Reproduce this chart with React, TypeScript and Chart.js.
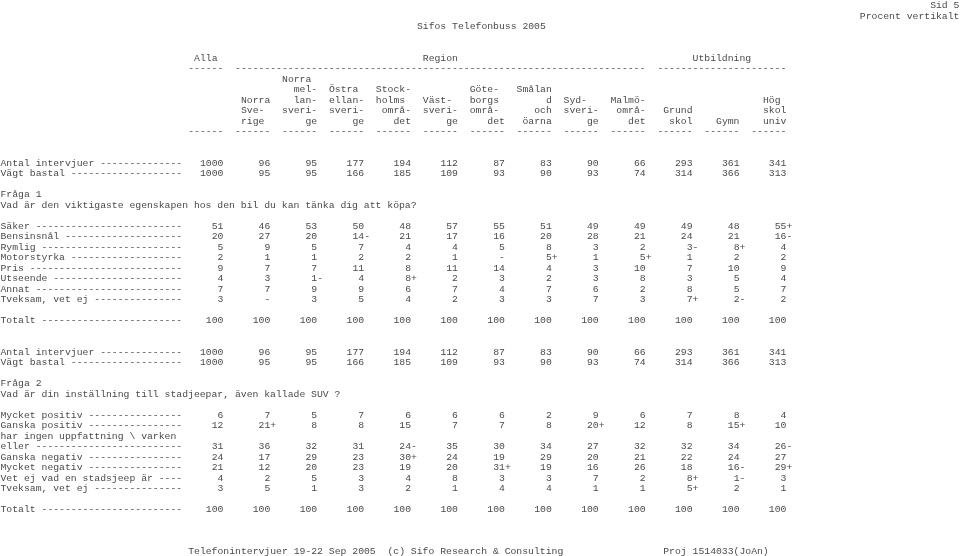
import React, { useEffect, useRef } from "react";
import { Chart, registerables } from "chart.js";

Chart.register(...registerables);

// ---------- column headers (13 columns) ----------
const groupAlla = "Alla";
const groupRegion = "Region";
const groupUtbildning = "Utbildning";

// five header lines per column (lines 7..11), each a 6-char field
const colHeaders: string[][] = [
  ["", "", "", "", ""],
  ["", "", " Norra", " Sve- ", " rige "],
  ["Norra ", "  mel-", "  lan-", "sveri-", "    ge"],
  ["", "Östra ", "ellan-", "sveri-", "    ge"],
  ["", "Stock-", "holms ", " områ-", "   det"],
  ["", "", "Väst- ", "sveri-", "    ge"],
  ["", "Göte- ", "borgs ", "områ- ", "   det"],
  ["", "Smålan", "     d", "   och", " öarna"],
  ["", "", "Syd-  ", "sveri-", "    ge"],
  ["", "", "Malmö-", " områ-", "   det"],
  ["", "", "", " Grund", "  skol"],
  ["", "", "", "", "  Gymn"],
  ["", "", "  Hög ", "  skol", "  univ"],
];

// ---------- base rows ----------
const antalIntervjuer = [1000, 96, 95, 177, 194, 112, 87, 83, 90, 66, 293, 361, 341];
const vagtBastal = [1000, 95, 95, 166, 185, 109, 93, 90, 93, 74, 314, 366, 313];
const totalt = [100, 100, 100, 100, 100, 100, 100, 100, 100, 100, 100, 100, 100];
const noSig = ["", "", "", "", "", "", "", "", "", "", "", "", ""];

// ---------- Fråga 1 ----------
const q1Title = "Fråga 1";
const q1Text = "Vad är den viktigaste egenskapen hos den bil du kan tänka dig att köpa?";

const q1Saker = [51, 46, 53, 50, 48, 57, 55, 51, 49, 49, 49, 48, 55];
const q1SakerSig = ["", "", "", "", "", "", "", "", "", "", "", "", "+"];
const q1Bensinsnal = [20, 27, 20, 14, 21, 17, 16, 20, 28, 21, 24, 21, 16];
const q1BensinsnalSig = ["", "", "", "-", "", "", "", "", "", "", "", "", "-"];
const q1Rymlig = [5, 9, 5, 7, 4, 4, 5, 8, 3, 2, 3, 8, 4];
const q1RymligSig = ["", "", "", "", "", "", "", "", "", "", "-", "+", ""];
const q1Motorstyrka = [2, 1, 1, 2, 2, 1, 0, 5, 1, 5, 1, 2, 2];
const q1MotorstyrkaSig = ["", "", "", "", "", "", "", "+", "", "+", "", "", ""];
const q1Pris = [9, 7, 7, 11, 8, 11, 14, 4, 3, 10, 7, 10, 9];
const q1Utseende = [4, 3, 1, 4, 8, 2, 3, 2, 3, 8, 3, 5, 4];
const q1UtseendeSig = ["", "", "-", "", "+", "", "", "", "", "", "", "", ""];
const q1Annat = [7, 7, 9, 9, 6, 7, 4, 7, 6, 2, 8, 5, 7];
const q1Tveksam = [3, 0, 3, 5, 4, 2, 3, 3, 7, 3, 7, 2, 2];
const q1TveksamSig = ["", "", "", "", "", "", "", "", "", "", "+", "-", ""];

// ---------- Fråga 2 ----------
const q2Title = "Fråga 2";
const q2Text = "Vad är din inställning till stadjeepar, även kallade SUV ?";

const q2MycketPositiv = [6, 7, 5, 7, 6, 6, 6, 2, 9, 6, 7, 8, 4];
const q2GanskaPositiv = [12, 21, 8, 8, 15, 7, 7, 8, 20, 12, 8, 15, 10];
const q2GanskaPositivSig = ["", "+", "", "", "", "", "", "", "+", "", "", "+", ""];
const q2Varken = [31, 36, 32, 31, 24, 35, 30, 34, 27, 32, 32, 34, 26];
const q2VarkenSig = ["", "", "", "", "-", "", "", "", "", "", "", "", "-"];
const q2GanskaNegativ = [24, 17, 29, 23, 30, 24, 19, 29, 20, 21, 22, 24, 27];
const q2GanskaNegativSig = ["", "", "", "", "+", "", "", "", "", "", "", "", ""];
const q2MycketNegativ = [21, 12, 20, 23, 19, 20, 31, 19, 16, 26, 18, 16, 29];
const q2MycketNegativSig = ["", "", "", "", "", "", "+", "", "", "", "", "-", "+"];
const q2VetEj = [4, 2, 5, 3, 4, 8, 3, 3, 7, 2, 8, 1, 3];
const q2VetEjSig = ["", "", "", "", "", "", "", "", "", "", "+", "-", ""];
const q2Tveksam = [3, 5, 1, 3, 2, 1, 4, 4, 1, 1, 5, 2, 1];
const q2TveksamSig = ["", "", "", "", "", "", "", "", "", "", "+", "", ""];

// ---------- page texts ----------
const pageTitle = "Sifos Telefonbuss 2005";
const pageNo = "Sid 5";
const pageMode = "Procent vertikalt";
const footerLeft = "Telefonintervjuer 19-22 Sep 2005  (c) Sifo Research & Consulting";
const footerRight = "Proj 1514033(JoAn)";

// ---------- layout (character grid) ----------
const CHAR_W = 5.865;
const X_ORIGIN = 0.5;
const LINE_H = 10.5;
const Y_ORIGIN = 5;
const W = 960;
const H = 556;
const LABEL_LEN = 31;
const BASE_OFF = 3.4;
const FONT = '9.78px "Liberation Mono", "DejaVu Sans Mono", monospace';
const COLOR = "#4a4a4a";

const fieldStart = (k: number) => 32 + 8 * k;
const fieldEnd = (k: number) => 38 + 8 * k;

const pad = (label: string) => {
  const s = label + " ";
  return s.length >= LABEL_LEN ? label : s + "-".repeat(LABEL_LEN - s.length);
};

type Row = { line: number; label: string; values: number[]; sig: string[] };

const rows: Row[] = [
  { line: 15, label: "Antal intervjuer", values: antalIntervjuer, sig: noSig },
  { line: 16, label: "Vägt bastal", values: vagtBastal, sig: noSig },
  { line: 21, label: "Säker", values: q1Saker, sig: q1SakerSig },
  { line: 22, label: "Bensinsnål", values: q1Bensinsnal, sig: q1BensinsnalSig },
  { line: 23, label: "Rymlig", values: q1Rymlig, sig: q1RymligSig },
  { line: 24, label: "Motorstyrka", values: q1Motorstyrka, sig: q1MotorstyrkaSig },
  { line: 25, label: "Pris", values: q1Pris, sig: noSig },
  { line: 26, label: "Utseende", values: q1Utseende, sig: q1UtseendeSig },
  { line: 27, label: "Annat", values: q1Annat, sig: noSig },
  { line: 28, label: "Tveksam, vet ej", values: q1Tveksam, sig: q1TveksamSig },
  { line: 30, label: "Totalt", values: totalt, sig: noSig },
  { line: 33, label: "Antal intervjuer", values: antalIntervjuer, sig: noSig },
  { line: 34, label: "Vägt bastal", values: vagtBastal, sig: noSig },
  { line: 39, label: "Mycket positiv", values: q2MycketPositiv, sig: noSig },
  { line: 40, label: "Ganska positiv", values: q2GanskaPositiv, sig: q2GanskaPositivSig },
  { line: 42, label: "eller", values: q2Varken, sig: q2VarkenSig },
  { line: 43, label: "Ganska negativ", values: q2GanskaNegativ, sig: q2GanskaNegativSig },
  { line: 44, label: "Mycket negativ", values: q2MycketNegativ, sig: q2MycketNegativSig },
  { line: 45, label: "Vet ej vad en stadsjeep är", values: q2VetEj, sig: q2VetEjSig },
  { line: 46, label: "Tveksam, vet ej", values: q2Tveksam, sig: q2TveksamSig },
  { line: 48, label: "Totalt", values: totalt, sig: noSig },
];

type Txt = { text: string; c: number; l: number; align: CanvasTextAlign };

const buildStatic = (): Txt[] => {
  const t: Txt[] = [];
  t.push({ text: pageNo, c: 163.5, l: 0, align: "right" });
  t.push({ text: pageMode, c: 163.5, l: 1, align: "right" });
  t.push({ text: pageTitle, c: 71, l: 2, align: "left" });
  t.push({ text: groupAlla, c: 33, l: 5, align: "left" });
  t.push({ text: groupRegion, c: 72, l: 5, align: "left" });
  t.push({ text: groupUtbildning, c: 118, l: 5, align: "left" });
  t.push({ text: "-".repeat(6), c: fieldStart(0), l: 6, align: "left" });
  t.push({ text: "-".repeat(fieldEnd(9) - fieldStart(1)), c: fieldStart(1), l: 6, align: "left" });
  t.push({ text: "-".repeat(fieldEnd(12) - fieldStart(10)), c: fieldStart(10), l: 6, align: "left" });
  colHeaders.forEach((lines, k) => {
    lines.forEach((s, i) => {
      if (s) t.push({ text: s, c: fieldStart(k), l: 7 + i, align: "left" });
    });
    t.push({ text: "-".repeat(6), c: fieldStart(k), l: 12, align: "left" });
  });
  rows.forEach((r) => t.push({ text: pad(r.label), c: 0, l: r.line, align: "left" }));
  t.push({ text: q1Title, c: 0, l: 18, align: "left" });
  t.push({ text: q1Text, c: 0, l: 19, align: "left" });
  t.push({ text: q2Title, c: 0, l: 36, align: "left" });
  t.push({ text: q2Text, c: 0, l: 37, align: "left" });
  t.push({ text: "har ingen uppfattning \\ varken", c: 0, l: 41, align: "left" });
  t.push({ text: footerLeft, c: 32, l: 52, align: "left" });
  t.push({ text: footerRight, c: 113, l: 52, align: "left" });
  return t;
};

const textPlugin = {
  id: "textTable",
  afterDatasetsDraw(chart: any) {
    const ctx: CanvasRenderingContext2D = chart.ctx;
    const xs = chart.scales.x;
    const ys = chart.scales.y;
    ctx.save();
    ctx.font = FONT;
    ctx.fillStyle = COLOR;
    ctx.textBaseline = "alphabetic";
    for (const t of buildStatic()) {
      ctx.textAlign = t.align;
      ctx.fillText(t.text, xs.getPixelForValue(t.c), ys.getPixelForValue(t.l) + BASE_OFF);
    }
    chart.data.datasets.forEach((ds: any, di: number) => {
      const meta = chart.getDatasetMeta(di);
      meta.data.forEach((el: any, i: number) => {
        const v = ds.values[i];
        const s = ds.sig[i];
        ctx.textAlign = "right";
        ctx.fillText(v === 0 ? "-" : String(v), el.x, el.y + BASE_OFF);
        if (s) {
          ctx.textAlign = "left";
          ctx.fillText(s, el.x, el.y + BASE_OFF);
        }
      });
    });
    ctx.restore();
  },
};

export default function App() {
  const ref = useRef<HTMLCanvasElement | null>(null);
  useEffect(() => {
    if (!ref.current) return;
    const datasets = rows.map((r) => ({
      label: r.label,
      values: r.values,
      sig: r.sig,
      data: r.values.map((_, k) => ({ x: fieldEnd(k), y: r.line })),
      pointRadius: 0,
      pointHoverRadius: 0,
      showLine: false,
    }));
    const chart = new Chart(ref.current, {
      type: "scatter",
      data: { datasets: datasets as any },
      options: {
        responsive: false,
        animation: false,
        events: [],
        layout: { padding: 0 },
        plugins: { legend: { display: false }, tooltip: { enabled: false } },
        scales: {
          x: {
            type: "linear",
            display: false,
            min: -X_ORIGIN / CHAR_W,
            max: (W - X_ORIGIN) / CHAR_W,
          },
          y: {
            type: "linear",
            display: false,
            reverse: true,
            min: -Y_ORIGIN / LINE_H,
            max: (H - Y_ORIGIN) / LINE_H,
          },
        },
      },
      plugins: [textPlugin],
    });
    return () => chart.destroy();
  }, []);
  return (
    <div style={{ position: "absolute", left: 0, top: 0, width: W, height: H, background: "#fff" }}>
      <canvas ref={ref} width={W} height={H} style={{ display: "block" }} />
    </div>
  );
}
